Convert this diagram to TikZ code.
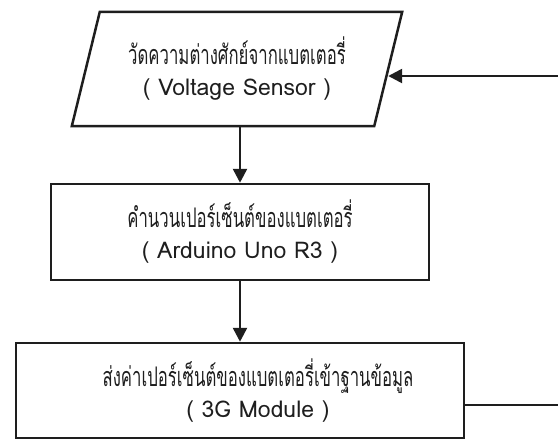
\documentclass[tikz,border=0pt]{standalone}
\usepackage{fontspec}
\usepackage{tikz}
\usetikzlibrary{positioning,arrows.meta}
\newfontfamily\thaifont[Script=Thai,FakeStretch=0.62]{Loma}
\newfontfamily\engfont{Loma}
\newcommand{\thailine}[1]{{\thaifont\fontsize{27}{31}\selectfont #1}}
\definecolor{LineDark}{HTML}{1E1E1E}

\begin{document}
\begin{tikzpicture}[x=1pt,y=-1pt,
    flowline/.style={draw=LineDark, line width=2.5pt, line join=miter},
    flowtext/.style={align=center, inner sep=0pt, text=LineDark,
      font=\engfont\fontsize{23}{31}\selectfont},
    flowbox/.style={flowline, flowtext},
    flowarrow/.style={flowline, -{Triangle[length=14pt,width=14pt]}}]
  \useasboundingbox (0,0) rectangle (558,440);
  \clip (0,0) rectangle (558,440);
  % input: parallelogram drawn round the text node
  \node[flowtext, minimum width=302pt, minimum height=114pt]
        (measure) at (237,69) {\thailine{วัดความต่างศักย์จากแบตเตอรี่}\\( Voltage Sensor )};
  \draw[flowline] ([xshift=14pt]measure.north west) -- ([xshift=14pt]measure.north east)
        -- ([xshift=-14pt]measure.south east) -- ([xshift=-14pt]measure.south west) -- cycle;
  \node[flowbox, minimum width=378pt, minimum height=96pt]
        (calc) at (240,232) {\thailine{คำนวนเปอร์เซ็นต์ของแบตเตอรี่}\\( Arduino Uno R3 )};
  \node[flowline, minimum width=448pt, minimum height=95pt] (send) at (240,390.5) {};
  \node[flowtext] (sendtext) at ([xshift=18pt]send.center)
        {\thailine{ส่งค่าเปอร์เซ็นต์ของแบตเตอรี่เข้าฐานข้อมูล}\\( 3G Module )};
  \draw[flowarrow] (measure.south -| calc.north) -- (calc.north);
  \draw[flowarrow] (calc.south) -- (send.north);
  % feedback loop back to the sensor
  \draw[flowarrow] ([yshift=-14.5pt]send.east) -- ++(112pt,0)
        |- ([yshift=-7pt]measure.east);
\end{tikzpicture}
\end{document}
